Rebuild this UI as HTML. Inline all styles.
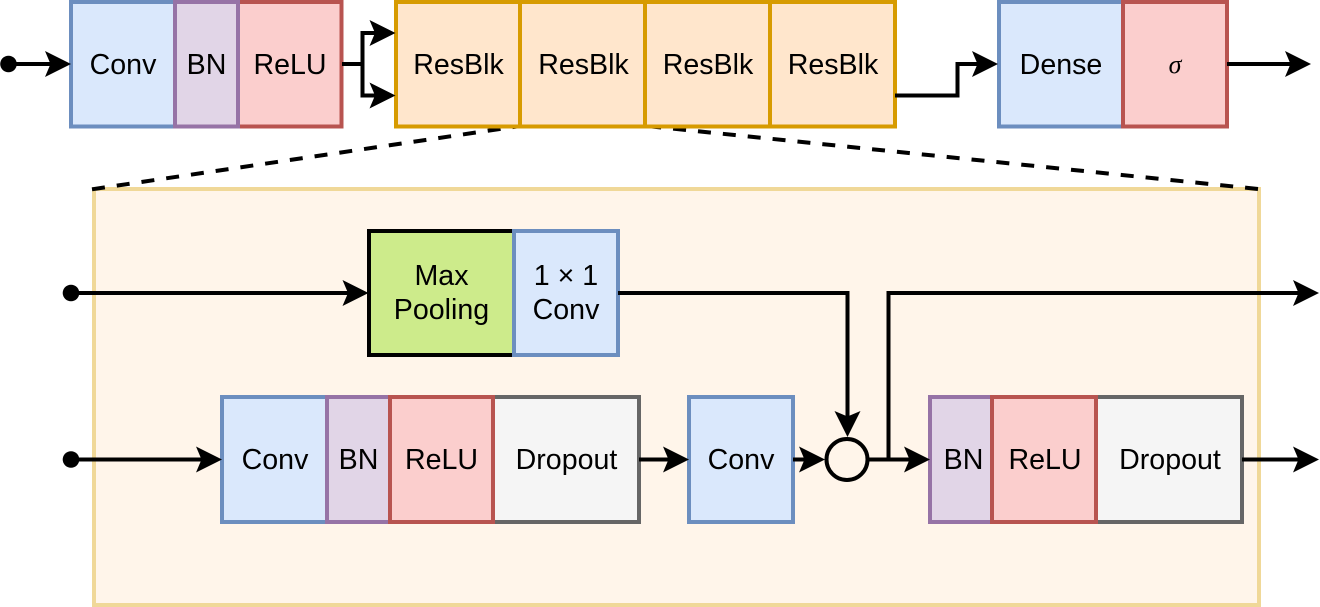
<!DOCTYPE html>
<html>
<head>
<meta charset="utf-8">
<style>
html,body{margin:0;padding:0;background:#fff;width:1320px;height:607px;overflow:hidden}
svg{display:block}
text{font-family:"Liberation Sans",Arial,sans-serif;font-size:28.600px;fill:#000;text-anchor:middle}
.b{fill:#dae8fc;stroke:#6c8ebf}
.p{fill:#e1d5e7;stroke:#9673a6}
.r{fill:#fbcecd;stroke:#b85450}
.g{fill:#f5f5f5;stroke:#666666}
.o{fill:#ffe6cc;stroke:#d79b00}
rect{stroke-width:4}
.l{fill:none;stroke:#000;stroke-width:4}
</style>
</head>
<body>
<svg width="1320" height="607" viewBox="0 0 1320 607" xmlns="http://www.w3.org/2000/svg">
<defs>
<path id="ar" d="M0 0L-26 -13L-20.500 0L-26 13Z" fill="#000"/>
</defs>

<rect x="94" y="189" width="1165" height="416" fill="#fff5ea" stroke="#f0d898"/>

<!-- dashed -->
<path class="l" d="M92 189.300L520 126" stroke-dasharray="13 12"/>
<path class="l" d="M1258 189L647 126" stroke-dasharray="13 12"/>

<!-- top row -->
<rect class="b" x="71" y="2" width="104" height="124.500"/>
<rect class="r" x="238" y="2" width="103.500" height="124.500"/>
<rect class="p" x="175" y="2" width="63" height="124.500"/>
<text x="123" y="74">Conv</text>
<text x="206.500" y="74">BN</text>
<text x="290" y="74">ReLU</text>

<rect class="o" x="396" y="2" width="124" height="124.500"/>
<rect class="o" x="520" y="2" width="125" height="124.500"/>
<rect class="o" x="645" y="2" width="125" height="124.500"/>
<rect class="o" x="770" y="2" width="125" height="124.500"/>
<text x="458.500" y="74">ResBlk</text>
<text x="583.500" y="74">ResBlk</text>
<text x="708" y="74">ResBlk</text>
<text x="833" y="74">ResBlk</text>

<rect class="b" x="999" y="2" width="124" height="124.500"/>
<rect class="r" x="1123" y="2" width="104" height="124.500"/>
<text x="1061" y="74">Dense</text>
<text x="1175" y="73" style="font-family:'Liberation Serif',serif;font-style:italic;font-size:26px">σ</text>

<!-- max pool -->
<rect x="369" y="231" width="145" height="124" fill="#cdeb8b" stroke="#000"/>
<rect class="b" x="514" y="231" width="104" height="124"/>
<text x="441.500" y="285">Max</text>
<text x="441.500" y="319">Pooling</text>
<text x="566" y="285">1 × 1</text>
<text x="566" y="319">Conv</text>

<!-- row 2 -->
<rect class="b" x="222" y="397" width="105" height="125"/>
<rect class="g" x="493" y="397" width="146" height="125"/>
<rect class="p" x="327" y="397" width="63" height="125"/>
<rect class="r" x="390" y="397" width="103" height="125"/>
<text x="275" y="469">Conv</text>
<text x="358.500" y="469">BN</text>
<text x="441.500" y="469">ReLU</text>
<text x="566.500" y="469">Dropout</text>

<rect class="b" x="689" y="397" width="104" height="125"/>
<text x="741" y="469">Conv</text>

<rect class="p" x="930" y="397" width="62" height="125"/>
<rect class="g" x="1096" y="397" width="146" height="125"/>
<rect class="r" x="992" y="397" width="104" height="125"/>
<text x="963.500" y="469">BN</text>
<text x="1045" y="469">ReLU</text>
<text x="1170" y="469">Dropout</text>

<!-- connectors -->
<circle cx="8.500" cy="64" r="8.300" fill="#000"/>
<path class="l" d="M8.500 64H52"/>
<use href="#ar" transform="translate(71,64)"/>

<path class="l" d="M342 64H362.500M376 33H362.500V95.500H376"/>
<use href="#ar" transform="translate(395.500,33)"/>
<use href="#ar" transform="translate(395.500,95.500)"/>

<path class="l" d="M895 95.500H957.500V64H980"/>
<use href="#ar" transform="translate(998,64)"/>

<path class="l" d="M1227 64H1292"/>
<use href="#ar" transform="translate(1311,64)"/>

<circle cx="71" cy="293" r="8.300" fill="#000"/>
<path class="l" d="M71 293H350"/>
<use href="#ar" transform="translate(368.500,293)"/>

<circle cx="71" cy="459.500" r="8.300" fill="#000"/>
<path class="l" d="M71 459.500H204"/>
<use href="#ar" transform="translate(222,459.500)"/>

<path class="l" d="M618 293H847.500V418"/>
<use href="#ar" transform="translate(847.500,437) rotate(90)"/>

<path class="l" d="M639 459.500H670"/>
<use href="#ar" transform="translate(689,459.500)"/>

<path class="l" d="M793 459.500H806"/>
<use href="#ar" transform="translate(825,459.500)"/>

<circle cx="847" cy="459.500" r="20.500" fill="#fff5ea" stroke="#000" stroke-width="4"/>

<path class="l" d="M867.500 459.500H912"/>
<use href="#ar" transform="translate(930,459.500)"/>

<path class="l" d="M888.500 459.500V293H1300"/>
<use href="#ar" transform="translate(1319,293)"/>

<path class="l" d="M1242 459.500H1300"/>
<use href="#ar" transform="translate(1319,459.500)"/>
</svg>
</body>
</html>
